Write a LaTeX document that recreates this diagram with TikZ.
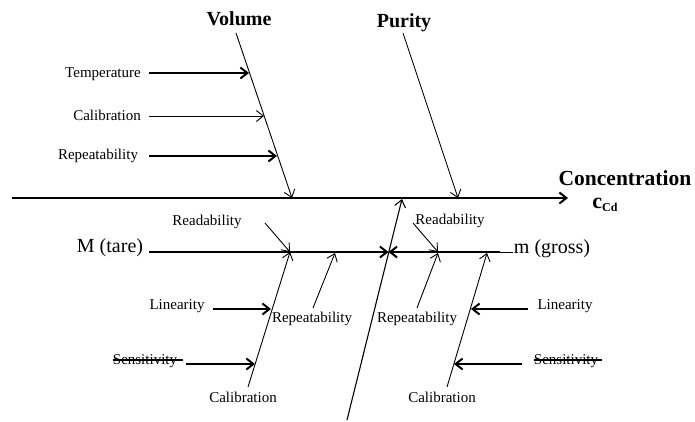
\documentclass[tikz,border=0pt]{standalone}
\usepackage{fontspec}
\setmainfont{Liberation Serif}
\usetikzlibrary{arrows.meta}
\begin{document}
\begin{tikzpicture}[x=1pt,y=-1pt,
  lbl/.style={inner sep=0pt,anchor=base,font=\fontsize{15}{18}\selectfont},
  big/.style={inner sep=0pt,anchor=base,font=\fontsize{20}{24}\selectfont\bfseries},
  mid/.style={inner sep=0pt,anchor=base,font=\fontsize{20}{24}\selectfont},
  thk/.style={line width=2pt},
  thn/.style={line width=0.9pt},
  arr/.style={-{Straight Barb[length=7pt,width=11pt]}},
]
\useasboundingbox (0,0) rectangle (695,421);
% main spine
\coordinate (sL) at (12,198);
\coordinate (sR) at (568,198);
\draw[thk,arr] (sL) -- (sR);
\node[big,font=\fontsize{21.5}{24}\selectfont\bfseries] (conc) at (625,185) {Concentration};
\node[inner sep=0pt,anchor=base] (ccd) at (605,208) {\fontsize{22}{24}\selectfont\bfseries c\raisebox{-3pt}{\fontsize{12}{14}\selectfont Cd}};
% Volume
\node[big] (vol) at (239,25) {Volume};
\coordinate (v0) at (236,33);
\coordinate (v1) at (292,198);
\draw[thn,arr] (v0) -- (v1);
\node[lbl] (tT) at (103,77) {Temperature};
\node[lbl] (tC) at (107,120) {Calibration};
\node[lbl] (tR) at (98,159) {Repeatability};
\coordinate (tT0) at (149,73);  \coordinate (tT1) at (249,73);
\coordinate (tC0) at (149,116); \coordinate (tC1) at (264,116);
\coordinate (tR0) at (149,156); \coordinate (tR1) at (277,156);
\draw[thk,arr] (tT0) -- (tT1);
\draw[thn,arr] (tC0) -- (tC1);
\draw[thk,arr] (tR0) -- (tR1);
% Purity
\node[big] (pur) at (404,27) {Purity};
\coordinate (p0) at (403,33);
\coordinate (p1) at (458,198);
\draw[thn,arr] (p0) -- (p1);
% bottom diagonal
\coordinate (b0) at (347,420);
\coordinate (b1) at (402,199);
\draw[line width=1.1pt,arr] (b0) -- (b1);
% mass line
\coordinate (mJ) at (388.5,252);
\node[mid] (mt) at (110,252) {M (tare)};
\node[mid] (mg) at (552,253) {m (gross)};
\coordinate (mt0) at (149,252);
\coordinate (mg0) at (500,252);
\coordinate (mg1) at (513,252);
\draw[thk,arr] (mt0) -- (mJ);
\draw[thk,arr] (mg0) -- (mJ);
\draw[line width=0.8pt] (mg0) -- (mg1);
% left (tare) contributions
\node[lbl] (rdL) at (207,225) {Readability};
\coordinate (rdL0) at (265,223); \coordinate (rdL1) at (290,252);
\draw[thn,arr] (rdL0) -- (rdL1);
\node[lbl] (caL) at (243,402) {Calibration};
\coordinate (caL0) at (248,387); \coordinate (caL1) at (290,252);
\draw[thn,arr] (caL0) -- (caL1);
\node[lbl] (liL) at (177,309) {Linearity};
\coordinate (liL0) at (213,309); \coordinate (liL1) at (271,309);
\draw[thk,arr] (liL0) -- (liL1);
\node[lbl] (seL) at (145,364) {Sensitivity};
\coordinate (seL0) at (186,364); \coordinate (seL1) at (255,364);
\draw[thk,arr] (seL0) -- (seL1);
\draw[line width=1.6pt] ([yshift=4pt]seL.base west) -- ([xshift=6pt,yshift=4pt]seL.base east);
\node[lbl] (reL) at (312,322) {Repeatability};
\coordinate (reL0) at (313,308); \coordinate (reL1) at (335,253);
\draw[thn,arr] (reL0) -- (reL1);
% right (gross) contributions
\node[lbl] (rdR) at (450,224) {Readability};
\coordinate (rdR0) at (413,223); \coordinate (rdR1) at (438,252);
\draw[thn,arr] (rdR0) -- (rdR1);
\node[lbl] (reR) at (417,322) {Repeatability};
\coordinate (reR0) at (417,308); \coordinate (reR1) at (438,253);
\draw[thn,arr] (reR0) -- (reR1);
\node[lbl] (caR) at (442,402) {Calibration};
\coordinate (caR0) at (447,387); \coordinate (caR1) at (487,253);
\draw[thn,arr] (caR0) -- (caR1);
\node[lbl] (liR) at (565,309) {Linearity};
\coordinate (liR0) at (528,309); \coordinate (liR1) at (471,309);
\draw[thk,arr] (liR0) -- (liR1);
\node[lbl] (seR) at (566,364) {Sensitivity};
\coordinate (seR0) at (522,364); \coordinate (seR1) at (454,364);
\draw[thk,arr] (seR0) -- (seR1);
\draw[line width=2pt] ([yshift=4pt]seR.base west) -- ([xshift=4pt,yshift=4pt]seR.base east);
\end{tikzpicture}
\end{document}
